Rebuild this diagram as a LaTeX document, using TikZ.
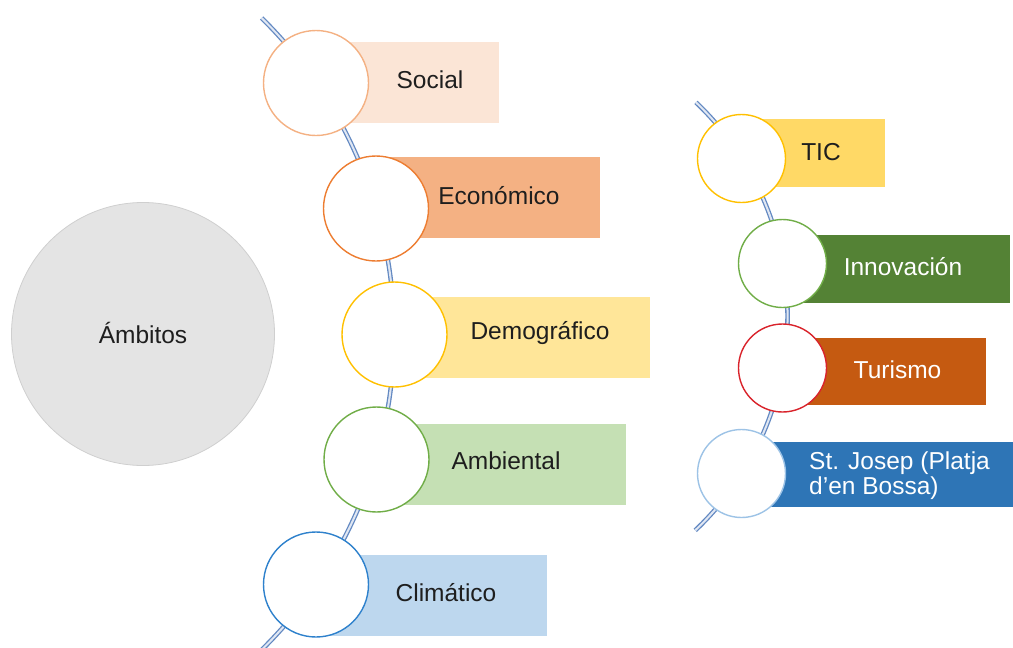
\documentclass[tikz,border=0pt]{standalone}
\usepackage{fontspec}
\setmainfont{Liberation Sans}
\definecolor{lineblue}{HTML}{6389C2}
\definecolor{txt}{HTML}{1E1E1E}
\definecolor{grayfill}{HTML}{E4E4E4}
\definecolor{grayline}{HTML}{CFCFCF}
\definecolor{socF}{HTML}{FBE5D6}\definecolor{socD}{HTML}{F4B183}
\definecolor{ecoF}{HTML}{F4B183}\definecolor{ecoD}{HTML}{ED7D31}
\definecolor{demF}{HTML}{FFE699}\definecolor{demD}{HTML}{FFC000}
\definecolor{ambF}{HTML}{C5E0B4}\definecolor{ambD}{HTML}{70AD47}
\definecolor{cliF}{HTML}{BDD7EE}\definecolor{cliD}{HTML}{2E81CC}
\definecolor{ticF}{HTML}{FFD966}\definecolor{ticD}{HTML}{FFC000}
\definecolor{innF}{HTML}{548235}\definecolor{innD}{HTML}{70AD47}
\definecolor{turF}{HTML}{C55A11}\definecolor{turD}{HTML}{D9232B}
\definecolor{josF}{HTML}{2E75B6}\definecolor{josD}{HTML}{9DC3E6}
\begin{document}
\begin{tikzpicture}[x=1pt,y=-1pt,
  conn/.style={draw=lineblue, line width=1.3pt, double=white!80!lineblue, double distance=2pt},
  bigring/.style={circle, draw=#1, line width=1.4pt, fill=white, minimum size=105pt, inner sep=0pt},
  smallring/.style={circle, draw=#1, line width=1.4pt, fill=white, minimum size=88pt, inner sep=0pt},
  band/.style={fill=#1, draw=none, inner sep=0pt, anchor=north west},
  lbl/.style={font=\fontsize{24.5}{25}\selectfont, text=txt, inner sep=0pt},
  wlbl/.style={font=\fontsize{24.5}{25}\selectfont, text=white, inner sep=0pt}]
\useasboundingbox (0,0) rectangle (1013,648);

% main circle
\node[circle, fill=grayfill, draw=grayline, line width=0.8pt, minimum size=263pt, inner sep=0pt] (amb0) at (143,334) {};
\node[lbl] (ambt) at (143,333) {Ámbitos};

% connectors
\coordinate (lstart) at (261.6,18);
\coordinate (rstart) at (696,102.4);
\draw[conn] (lstart) arc[start angle=45.5, end angle=-45.5, radius=443pt];
\draw[conn] (rstart) arc[start angle=46.4, end angle=-46.6, radius=295pt];

% left bands
\node[band=socF, minimum width=183pt, minimum height=81pt] (rsoc) at (316,42) {};
\node[band=ecoF, minimum width=224pt, minimum height=81pt] (reco) at (376,157) {};
\node[band=demF, minimum width=256pt, minimum height=81pt] (rdem) at (394,297) {};
\node[band=ambF, minimum width=250pt, minimum height=81pt] (ramb) at (376,424) {};
\node[band=cliF, minimum width=231pt, minimum height=81pt] (rcli) at (316,555) {};

% right bands
\node[band=ticF, minimum width=144pt, minimum height=68pt] (rtic) at (741,119) {};
\node[band=innF, minimum width=228pt, minimum height=68pt] (rinn) at (782,235) {};
\node[band=turF, minimum width=204pt, minimum height=67pt] (rtur) at (782,338) {};
\node[band=josF, minimum width=272pt, minimum height=65pt] (rjos) at (741,442) {};

% left circles
\node[bigring=socD] (csoc) at (316,83) {};
\node[bigring=ecoD] (ceco) at (376,208.5) {};
\node[bigring=demD] (cdem) at (394.5,334.5) {};
\node[bigring=ambD] (camb) at (376.5,459.5) {};
\node[bigring=cliD] (ccli) at (316,584.5) {};

% right circles
\node[smallring=ticD] (ctic) at (741.5,158.5) {};
\node[smallring=innD] (cinn) at (782.5,263.5) {};
\node[smallring=turD] (ctur) at (782.5,368) {};
\node[smallring=josD] (cjos) at (741.5,473.5) {};

% labels
\node[lbl] (tsoc) at (430,80) {Social};
\node[lbl] (teco) at (499,196) {Económico};
\node[lbl] (tdem) at (540,333) {Demográfico};
\node[lbl] (tamb) at (506,461) {Ambiental};
\node[lbl] (tcli) at (446,593) {Climático};
\node[lbl] (ttic) at (821,152) {TIC};
\node[wlbl] (tinn) at (903,267) {Innovación};
\node[wlbl] (ttur) at (897.5,370) {Turismo};
\node[wlbl, anchor=west, align=left] (tjos) at (809,476) {St. Josep (Platja\\d’en Bossa)};
\end{tikzpicture}
\end{document}
